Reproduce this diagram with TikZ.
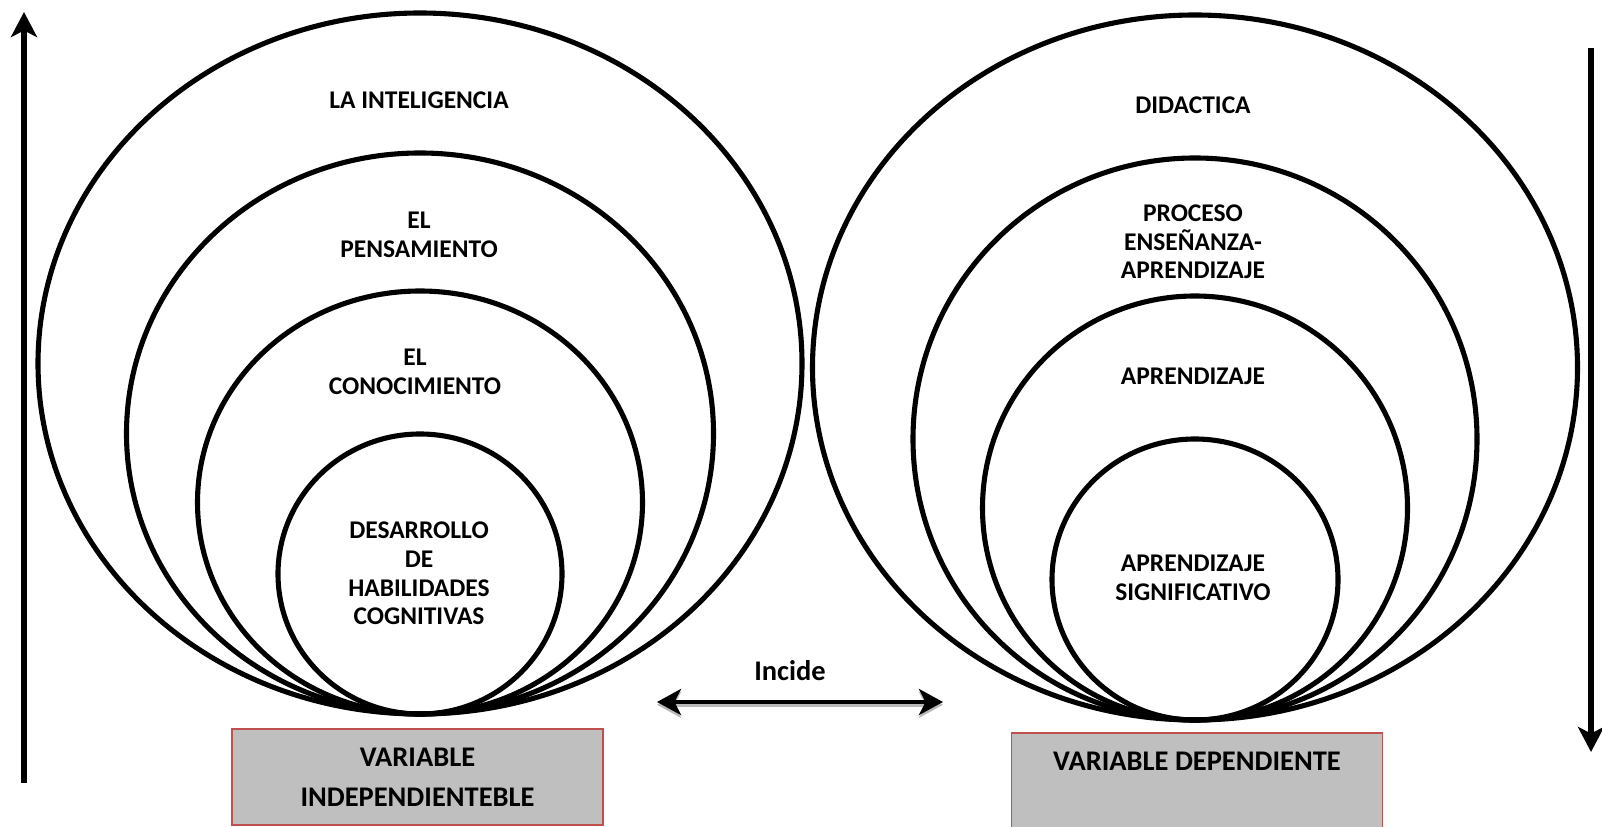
\documentclass[tikz,border=0pt]{standalone}
\usepackage{fontspec}
\setmainfont{Carlito}
\usepackage{tikz}
\usetikzlibrary{arrows.meta,positioning,shapes.geometric}
\definecolor{boxgray}{RGB}{191,191,191}
\definecolor{boxred}{RGB}{192,80,77}

\begin{document}
\begin{tikzpicture}[font=\bfseries\fontsize{14.5}{16.3}\selectfont,
   ring/.style={draw,ellipse,line width=2.9pt,inner sep=0pt,outer sep=0pt,anchor=south},
   lbl/.style={align=center,inner sep=0pt},
   var/.style={draw=boxred,fill=boxgray,line width=1.1pt,minimum width=7.42cm,minimum height=1.92cm,
               anchor=north,align=center,font=\bfseries\fontsize{16.2}{22.8}\selectfont},
   vert/.style={-{Stealth[length=5mm,width=5.2mm,inset=1.3mm]},line width=3pt},
   incide/.style={{Stealth[length=4.8mm,width=5.2mm,inset=1.3mm]}-{Stealth[length=4.8mm,width=5.2mm,inset=1.3mm]},line width=2.4pt}]
  \useasboundingbox (0,0) rectangle (32.04,16.54);
  % independent variable
  \coordinate (lb) at (8.40,2.26);
  \node[ring,minimum width=15.28cm,minimum height=14.02cm] (L1) at (lb) {};
  \node[ring,minimum width=11.74cm,minimum height=11.22cm] (L2) at (lb) {};
  \node[ring,minimum width=8.90cm,minimum height=8.46cm] (L3) at (lb) {};
  \node[ring,minimum width=5.68cm,minimum height=5.60cm] (L4) at (lb) {};
  \node[lbl] (intel) at (8.38,14.54) {LA INTELIGENCIA};
  \node[lbl] (pens) at (8.38,11.84) {EL\\PENSAMIENTO};
  \node[lbl] (conoc) at (8.30,9.10) {EL\\CONOCIMIENTO};
  \node[lbl] (desar) at (8.38,5.07) {DESARROLLO\\DE\\HABILIDADES\\COGNITIVAS};
  % dependent variable
  \coordinate (rb) at (23.90,2.14);
  \node[ring,minimum width=15.30cm,minimum height=14.10cm] (R1) at (rb) {};
  \node[ring,minimum width=11.28cm,minimum height=11.24cm] (R2) at (rb) {};
  \node[ring,minimum width=8.50cm,minimum height=8.48cm] (R3) at (rb) {};
  \node[ring,minimum width=5.72cm,minimum height=5.62cm] (R4) at (rb) {};
  \node[lbl] (didac) at (23.86,14.44) {DIDACTICA};
  \node[lbl] (proc) at (23.86,11.70) {PROCESO\\ENSEÑANZA-\\APRENDIZAJE};
  \node[lbl] (apren) at (23.86,9.02) {APRENDIZAJE};
  \node[lbl] (signif) at (23.86,4.98) {APRENDIZAJE\\SIGNIFICATIVO};
  % boxes
  \node[var] (vi) at (8.35,1.98) {VARIABLE\\INDEPENDIENTEBLE};
  \node[var] (vd) at (23.94,1.90) {VARIABLE DEPENDIENTE\\\phantom{I}};
  % arrows
  \node[font=\bfseries\fontsize{16.2}{19}\selectfont] (inc) at (15.80,3.12) {Incide};
  \coordinate (ia) at (13.14,2.50);
  \coordinate (ib) at (18.86,2.50);
  \draw[incide,gray!55,transform canvas={yshift=-1.6pt}] (ia) -- (ib);
  \draw[incide] (ia) -- (ib);
  \coordinate (up0) at (0.48,0.88);
  \coordinate (up1) at (0.48,16.30);
  \draw[vert] (up0) -- (up1);
  \coordinate (dn0) at (31.82,15.58);
  \coordinate (dn1) at (31.82,1.50);
  \draw[vert] (dn0) -- (dn1);
\end{tikzpicture}
\end{document}
